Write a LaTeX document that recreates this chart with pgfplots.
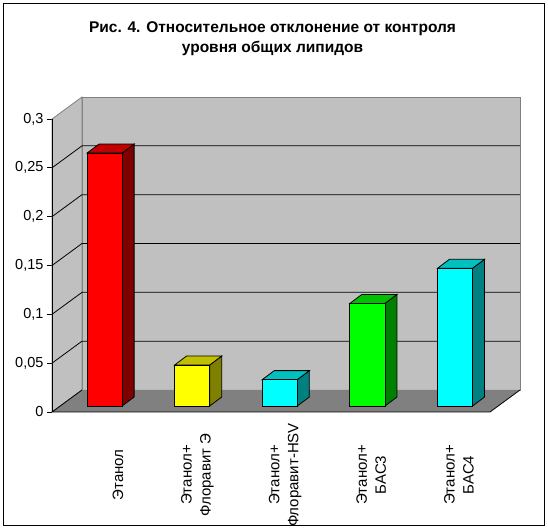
\documentclass[border=0pt]{standalone}
\usepackage{fontspec}
\setmainfont{Liberation Sans}
\usepackage{pgfplots}
\pgfplotsset{compat=1.18}
\usetikzlibrary{calc}

\definecolor{wallc}{RGB}{192,192,192}
\definecolor{edgec}{RGB}{128,128,128}
\definecolor{floorc}{RGB}{128,128,128}
\definecolor{redF}{RGB}{255,0,0}   \definecolor{redT}{RGB}{192,0,0}   \definecolor{redS}{RGB}{128,0,0}
\definecolor{yelF}{RGB}{255,255,0} \definecolor{yelT}{RGB}{192,192,0} \definecolor{yelS}{RGB}{128,128,0}
\definecolor{cyaF}{RGB}{0,255,255} \definecolor{cyaT}{RGB}{0,192,192} \definecolor{cyaS}{RGB}{0,128,128}
\definecolor{grnF}{RGB}{0,255,0}   \definecolor{grnT}{RGB}{0,192,0}   \definecolor{grnS}{RGB}{0,128,0}

% depth of a bar in axis units (12px across, 9px up)
\def\dX{0.137}
\def\dY{0.0092}

\pgfplotsset{barpart/.style={draw=black, line width=0.8pt, xshift=8.8pt, yshift=6pt}}

% one 3d bar: position, value, colour prefix
\newcommand{\barthree}[3]{%
  \pgfmathsetmacro\xl{#1-0.2}%
  \pgfmathsetmacro\xr{#1+0.2}%
  \pgfmathsetmacro\xlb{#1-0.2+\dX}%
  \pgfmathsetmacro\xrb{#1+0.2+\dX}%
  \pgfmathsetmacro\vt{#2+\dY}%
  \addplot[barpart, fill=#3S] coordinates {(\xr,0) (\xrb,\dY) (\xrb,\vt) (\xr,#2)} -- cycle;
  \addplot[barpart, fill=#3T] coordinates {(\xl,#2) (\xlb,\vt) (\xrb,\vt) (\xr,#2)} -- cycle;
  \addplot[barpart, fill=#3F] coordinates {(\xl,0) (\xl,#2) (\xr,#2) (\xr,0)} -- cycle;
}

\begin{document}
\begin{tikzpicture}
\useasboundingbox (0,0) rectangle (548pt,529pt);
\draw[line width=0.8pt] (3pt,4pt) rectangle (544pt,526pt);

\node[align=center, font=\bfseries\fontsize{15.5}{20}\selectfont, inner sep=0pt]
  at (272.5pt,490pt) {Рис. 4. Относительное отклонение от контроля\\уровня общих липидов};

\begin{axis}[
    at={(52pt,117pt)}, anchor=south west,
    scale only axis, width=438pt, height=293pt,
    xmin=-0.5, xmax=4.5, ymin=0, ymax=0.3,
    clip=false,
    axis line style={draw=none},
    ytick={0,0.05,0.1,0.15,0.2,0.25,0.3},
    ytick pos=left, tick align=outside, major tick length=5pt,
    ytick style={black, line width=0.8pt},
    xtick={0,1,2,3,4}, xtick style={draw=none},
    xticklabels={Этанол, {Этанол+\\Флоравит Э}, {Этанол+\\Флоравит-HSV}, {Этанол+\\БАС3}, {Этанол+\\БАС4}},
    xticklabel style={shift={(30.5pt,-58pt)}, rotate=90, anchor=south, align=center, inner sep=0pt, text depth=3pt,
      font=\fontsize{15}{19}\selectfont},
    yticklabel style={font=\fontsize{14.5}{16}\selectfont,
      /pgf/number format/.cd, fixed, precision=2, use comma, assume math mode=true},
]
% walls
\filldraw[fill=wallc, draw=edgec, line width=0.8pt]
  ($(axis cs:-0.5,0)+(30pt,22pt)$) rectangle ($(axis cs:4.5,0.3)+(30pt,22pt)$);
\filldraw[fill=wallc, draw=edgec, line width=0.8pt]
  (axis cs:-0.5,0) -- (axis cs:-0.5,0.3) -- ++(30pt,22pt) -- ($(axis cs:-0.5,0)+(30pt,22pt)$) -- cycle;
\pgfplotsinvokeforeach{0.05,0.1,0.15,0.2,0.25}{
  \draw[black, line width=0.8pt] (axis cs:-0.5,#1) -- ++(30pt,22pt) -- ($(axis cs:4.5,#1)+(30pt,22pt)$);
}
% floor
\fill[floorc] (axis cs:-0.5,0) -- (axis cs:4.5,0) -- ++(30pt,22pt) -- ($(axis cs:-0.5,0)+(30pt,22pt)$) -- cycle;
\draw[black, line width=0.8pt] ($(axis cs:-0.5,0)+(30pt,22pt)$) -- (axis cs:-0.5,0) -- (axis cs:4.5,0) -- ++(30pt,22pt);
\draw[black, line width=0.8pt] (axis cs:-0.5,0) -- (axis cs:-0.5,0.3);

\barthree{0}{0.259}{red}
\barthree{1}{0.042}{yel}
\barthree{2}{0.027}{cya}
\barthree{3}{0.105}{grn}
\barthree{4}{0.141}{cya}
\end{axis}
\end{tikzpicture}
\end{document}
